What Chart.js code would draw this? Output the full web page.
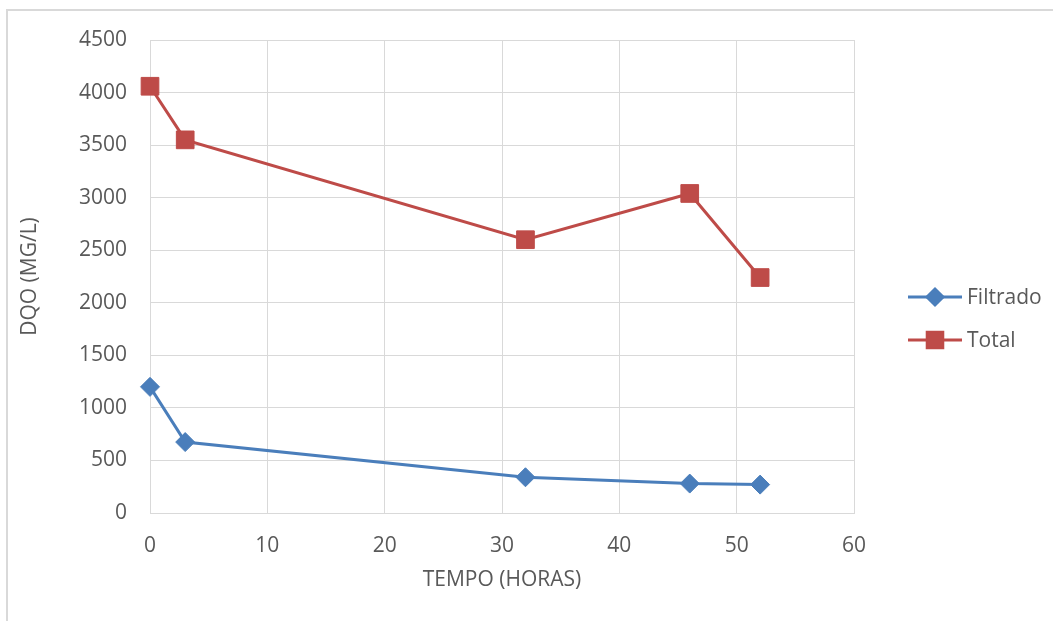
<!DOCTYPE html>
<html>
<head>
<meta charset="utf-8">
<script src="https://cdn.jsdelivr.net/npm/chart.js@4/dist/chart.umd.min.js"></script>
<style>
  html, body { margin: 0; padding: 0; background: #ffffff; }
  #wrap { position: relative; width: 1053px; height: 621px; }
</style>
</head>
<body>
<div id="wrap"><canvas id="c" width="1053" height="621"></canvas></div>
<script>
// Sampling times (hours)
const horas = [0, 3, 32, 46, 52];
// COD of the filtered sample (mg/L)
const filtrado = [1200, 675, 340, 280, 270];
// COD of the total sample (mg/L)
const total = [4060, 3550, 2600, 3040, 2240];

const seriesNames = ['Filtrado', 'Total'];
const xTitle = 'TEMPO (HORAS)';
const yTitle = 'DQO (MG/L)';

const FONT = "'Open Sans', 'DejaVu Sans', sans-serif";
const FONT_SIZE = 21;
const TEXT = '#595959';
const GRID = '#d9d9d9';

const toPoints = (xs, ys) => xs.map((x, i) => ({ x: x, y: ys[i] }));

// Outer frame of the chart object
const framePlugin = {
  id: 'frame',
  beforeDraw(chart) {
    const ctx = chart.ctx;
    ctx.save();
    ctx.fillStyle = '#ffffff';
    ctx.fillRect(0, 0, chart.width, chart.height);
    ctx.strokeStyle = '#d9d9d9';
    ctx.lineWidth = 2;
    ctx.beginPath();
    ctx.moveTo(7, chart.height);
    ctx.lineTo(7, 10);
    ctx.lineTo(chart.width, 10);
    ctx.stroke();
    ctx.restore();
  }
};

// Legend on the right: line segment with the series marker, then the name
const sideLegend = {
  id: 'sideLegend',
  afterDraw(chart) {
    const ctx = chart.ctx;
    const area = chart.chartArea;
    const x0 = area.right + 54;
    const x1 = area.right + 108;
    chart.data.datasets.forEach((ds, i) => {
      const y = area.top + 257 + i * 43;
      ctx.save();
      ctx.strokeStyle = ds.borderColor;
      ctx.lineWidth = ds.borderWidth;
      ctx.beginPath();
      ctx.moveTo(x0, y);
      ctx.lineTo(x1, y);
      ctx.stroke();
      Chart.helpers.drawPoint(ctx, {
        pointStyle: ds.pointStyle,
        radius: ds.legendRadius,
        borderWidth: 1
      }, (x0 + x1) / 2, y);
      ctx.fillStyle = ds.pointBackgroundColor;
      ctx.strokeStyle = ds.pointBorderColor;
      ctx.fill();
      ctx.fillStyle = TEXT;
      ctx.font = FONT_SIZE + 'px ' + FONT;
      ctx.textAlign = 'left';
      ctx.textBaseline = 'middle';
      ctx.fillText(ds.label, x1 + 5, y + 1);
      ctx.restore();
    });
  }
};

new Chart(document.getElementById('c'), {
  type: 'line',
  data: {
    datasets: [
      {
        label: seriesNames[0],
        data: toPoints(horas, filtrado),
        borderColor: '#4a7ebb',
        backgroundColor: '#4a7ebb',
        borderWidth: 3,
        pointStyle: 'rectRot',
        pointRadius: 9.5,
        legendRadius: 8,
        pointBackgroundColor: '#4a7ebb',
        pointBorderColor: '#4a7ebb',
        pointBorderWidth: 1,
        tension: 0,
        clip: false
      },
      {
        label: seriesNames[1],
        data: toPoints(horas, total),
        borderColor: '#be4b48',
        backgroundColor: '#be4b48',
        borderWidth: 3,
        pointStyle: 'rect',
        pointRadius: 12.5,
        legendRadius: 11,
        pointBackgroundColor: '#be4b48',
        pointBorderColor: '#be4b48',
        pointBorderWidth: 1,
        tension: 0,
        clip: false
      }
    ]
  },
  options: {
    responsive: false,
    animation: false,
    devicePixelRatio: 1,
    layout: { padding: { left: 0, top: 40, right: 199, bottom: 0 } },
    plugins: {
      legend: { display: false },
      tooltip: { enabled: false }
    },
    scales: {
      x: {
        type: 'linear',
        min: 0,
        max: 60,
        ticks: {
          stepSize: 10, padding: 20, color: TEXT,
          font: { family: FONT, size: FONT_SIZE },
          callback: (v) => String(v)
        },
        grid: { color: GRID, lineWidth: 1, drawTicks: false },
        border: { color: GRID, width: 1 },
        title: {
          display: true,
          text: xTitle,
          color: TEXT,
          font: { family: FONT, size: FONT_SIZE },
          padding: { top: 0, bottom: 28 }
        },
        afterFit(scale) { scale.height = 108; }
      },
      y: {
        type: 'linear',
        min: 0,
        max: 4500,
        ticks: {
          stepSize: 500, padding: 23, color: TEXT,
          font: { family: FONT, size: FONT_SIZE },
          callback: (v) => String(v)
        },
        grid: { color: GRID, lineWidth: 1, drawTicks: false },
        border: { display: false },
        title: {
          display: true,
          text: yTitle,
          color: TEXT,
          font: { family: FONT, size: FONT_SIZE },
          padding: { top: 17, bottom: 0 }
        },
        afterFit(scale) { scale.width = 150; }
      }
    }
  },
  plugins: [framePlugin, sideLegend]
});
</script>
</body>
</html>
